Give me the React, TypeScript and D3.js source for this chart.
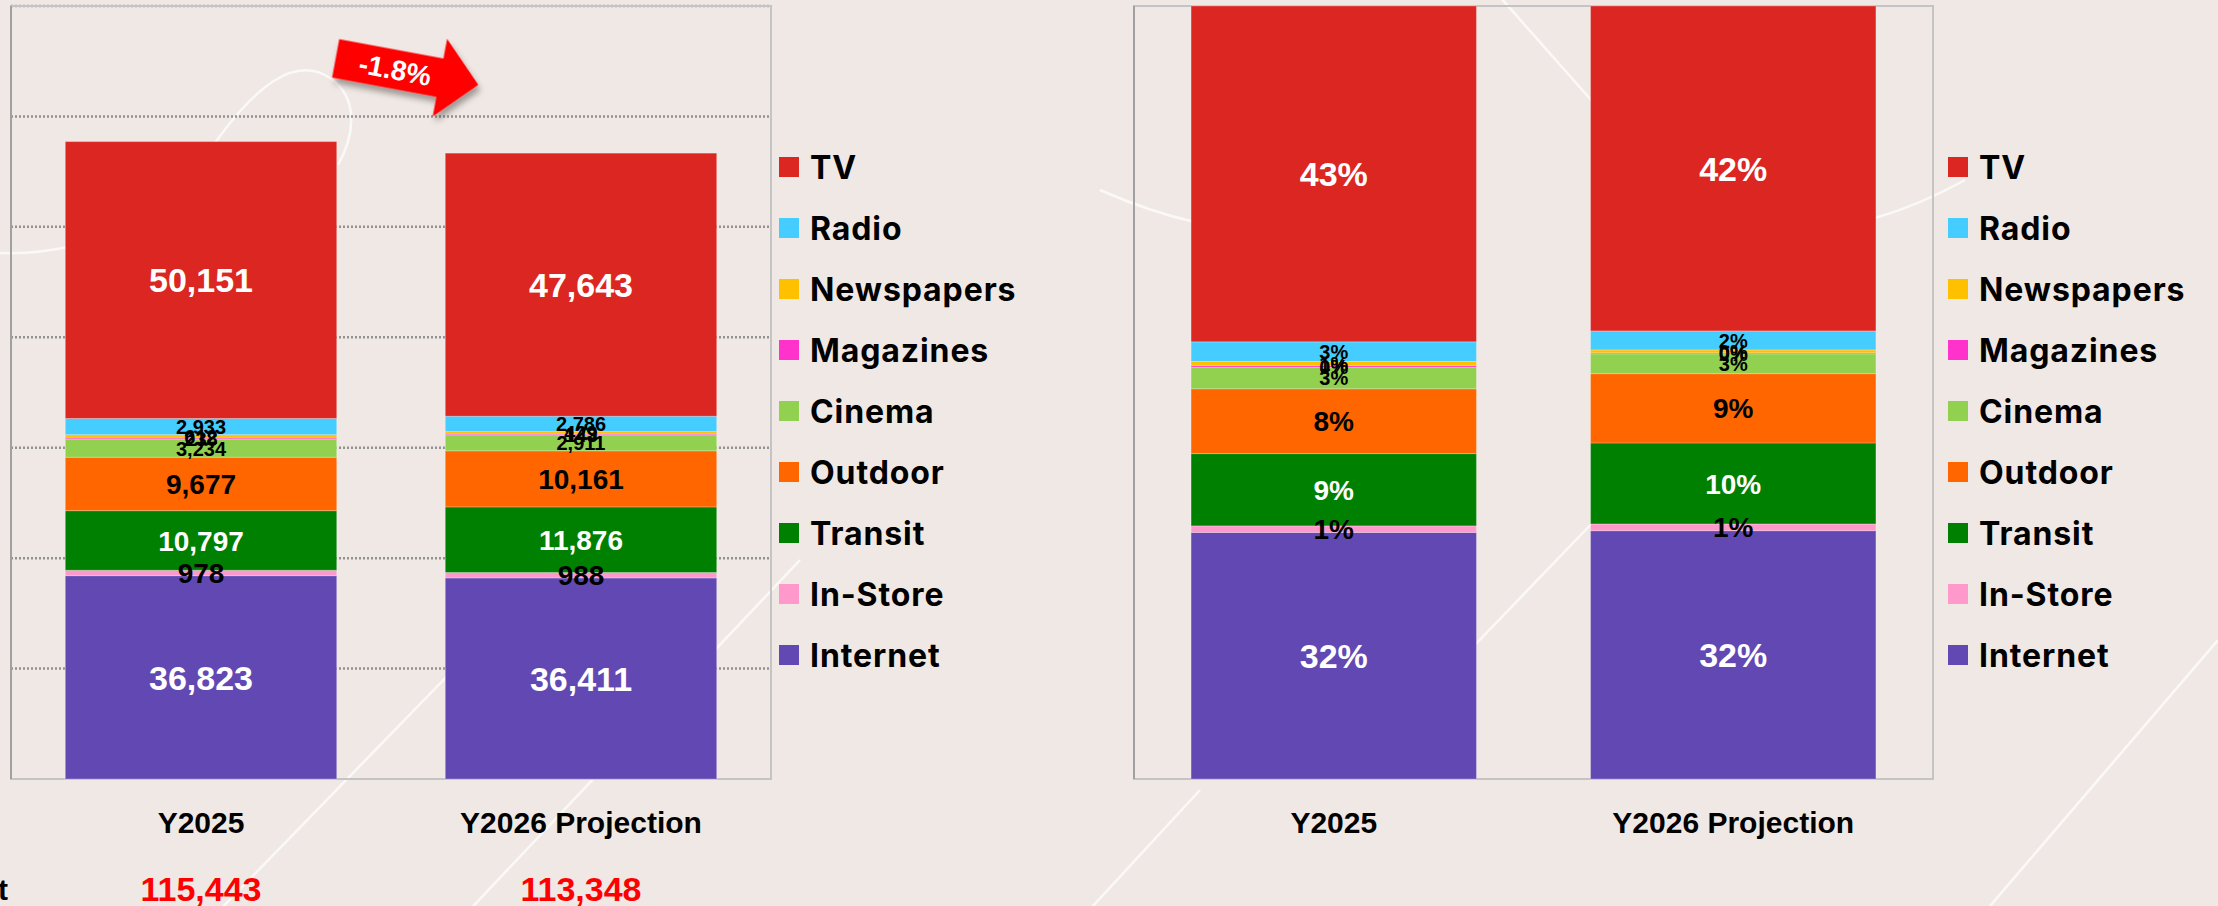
import React from 'react';
import * as d3 from 'd3';

// ---------- data ----------
const categories = ['Y2025', 'Y2026 Projection'];
// stacking order bottom -> top
const seriesNames = ['Internet', 'In-Store', 'Transit', 'Outdoor', 'Cinema', 'Magazines', 'Newspapers', 'Radio', 'TV'];
const internet = [36823, 36411];
const inStore = [978, 988];
const transit = [10797, 11876];
const outdoor = [9677, 10161];
const cinema = [3234, 2911];
const magazines = [238, 143];
const newspapers = [612, 429];
const radio = [2933, 2786];
const tv = [50151, 47643];
const seriesValues = [internet, inStore, transit, outdoor, cinema, magazines, newspapers, radio, tv];
const legendOrder = ['TV', 'Radio', 'Newspapers', 'Magazines', 'Cinema', 'Outdoor', 'Transit', 'In-Store', 'Internet'];
const yTicks = [20000, 40000, 60000, 80000, 100000, 120000, 140000];
const yMax = 140000;
const totalLabel = 'Total Ad Spent';

const colors: Record<string, string> = {
  TV: '#DC2622',
  Radio: '#45CDFF',
  Newspapers: '#FFC000',
  Magazines: '#FF33CC',
  Cinema: '#92D050',
  Outdoor: '#FF6600',
  Transit: '#008000',
  'In-Store': '#FF99CC',
  Internet: '#6248B3',
};
const labelSize: Record<string, number> = {
  TV: 34, Internet: 34, Outdoor: 28, Transit: 28, 'In-Store': 28,
  Radio: 20, Newspapers: 20, Magazines: 20, Cinema: 20,
};
const whiteLabels = new Set(['TV', 'Transit', 'Internet']);

const W = 2218;
const H = 906;
const BG = '#F0E8E4';
const FONT = "'Liberation Sans', Arial, Helvetica, sans-serif";
const LEGEND_FONT = "Inter, 'Liberation Sans', sans-serif";

const rows = categories.map((c, i) => {
  const r: any = { category: c };
  seriesNames.forEach((s, k) => { r[s] = seriesValues[k][i]; });
  return r;
});
const totals = categories.map((_, i) => d3.sum(seriesValues, (v) => v[i]));

type ChartProps = { left: number; right: number; top: number; bottom: number; percent: boolean };

function StackedChart({ left, right, top, bottom, percent }: ChartProps) {
  const x = d3.scaleBand<string>().domain(categories).range([left, right]).paddingInner(0.2857).paddingOuter(0.1429);
  const y = d3.scaleLinear().domain([0, percent ? 1 : yMax]).range([bottom, top]);
  const stackGen = d3.stack<any>().keys(seriesNames);
  if (percent) stackGen.offset(d3.stackOffsetExpand);
  const stacked = stackGen(rows);
  const fmtAbs = d3.format(',');
  const fmtPct = d3.format('.0%');
  return (
    <g>
      {!percent && yTicks.map((t) => (
        <line key={t} x1={left} x2={right} y1={y(t)} y2={y(t)} stroke="#929292" strokeWidth={2.5} strokeDasharray="2 2" />
      ))}
      <rect x={left} y={top} width={right - left} height={bottom - top} fill="none" stroke="#C4C4C4" strokeWidth={2} />
      <line x1={left} x2={left} y1={top} y2={bottom} stroke="#A0A0A0" strokeWidth={2} />
      {stacked.map((layer) => (
        <g key={layer.key}>
          {layer.map((d, i) => (
            <rect key={i} x={x(categories[i])} y={y(d[1])} width={x.bandwidth()} height={Math.max(0, y(d[0]) - y(d[1]))}
              fill={colors[layer.key]} stroke="#ffffff" strokeOpacity={0.25} strokeWidth={1} />
          ))}
        </g>
      ))}
      {stacked.map((layer) => (
        <g key={'l' + layer.key}>
          {layer.map((d, i) => {
            const v = rows[i][layer.key];
            const txt = percent ? fmtPct(v / totals[i]) : fmtAbs(v);
            return (
              <text key={i} x={(x(categories[i]) as number) + x.bandwidth() / 2} y={(y(d[0]) + y(d[1])) / 2}
                dy="0.36em" textAnchor="middle" fontFamily={FONT} fontWeight={700} fontSize={labelSize[layer.key]}
                fill={whiteLabels.has(layer.key) ? '#ffffff' : '#000000'}>{txt}</text>
            );
          })}
        </g>
      ))}
      {categories.map((c) => (
        <text key={c} x={(x(c) as number) + x.bandwidth() / 2} y={822} dy="0.36em" textAnchor="middle"
          fontFamily={FONT} fontWeight={700} fontSize={30} fill="#000">{c}</text>
      ))}
      {!percent && categories.map((c, i) => (
        <text key={'t' + c} x={(x(c) as number) + x.bandwidth() / 2} y={889} dy="0.36em" textAnchor="middle"
          fontFamily={FONT} fontWeight={700} fontSize={34} fill="#FF0000">{fmtAbs(totals[i])}</text>
      ))}
      {!percent && (
        <text x={8} y={889} dy="0.36em" textAnchor="end" fontFamily={FONT} fontWeight={700} fontSize={30} fill="#000">{totalLabel}</text>
      )}
      {!percent && <Arrow x={(((x(categories[0]) as number) + (x(categories[1]) as number)) / 2) + x.bandwidth() / 2 + 16} y={y(d3.max(totals) as number) - 70} />}
    </g>
  );
}

function Arrow({ x, y }: { x: number; y: number }) {
  const len = 145, headLen = 39, shaftHalf = 19.5, headHalf = 39.5;
  const hx = len / 2 - headLen;
  const pts = [[-len / 2, -shaftHalf], [hx, -shaftHalf], [hx, -headHalf], [len / 2, 0], [hx, headHalf], [hx, shaftHalf], [-len / 2, shaftHalf]];
  const change = totals[1] / totals[0] - 1;
  const txt = d3.format('.1%')(change).replace('\u2212', '-');
  return (
    <g transform={`translate(${x},${y}) rotate(10.5)`}>
      <polygon points={pts.map((p) => p.join(',')).join(' ')} fill="#FF0000" filter="url(#shadow)" />
      <text x={-12} y={0} dy="0.36em" textAnchor="middle" fontFamily={FONT} fontWeight={700} fontSize={28} fill="#fff">{txt}</text>
    </g>
  );
}

function Legend({ x }: { x: number }) {
  return (
    <g>
      {legendOrder.map((s, i) => {
        const cy = 167 + i * 61;
        return (
          <g key={s}>
            <rect x={x} y={cy - 10} width={20} height={20} fill={colors[s]} />
            <text x={x + 31} y={cy} dy="0.36em" fontFamily={LEGEND_FONT} fontWeight={700} fontSize={32} letterSpacing={0.9} fill="#000">{s}</text>
          </g>
        );
      })}
    </g>
  );
}

export default function App() {
  return (
    <svg width={W} height={H} style={{ position: 'absolute', left: 0, top: 0, display: 'block' }}>
      <defs>
        <filter id="shadow" x="-30%" y="-30%" width="160%" height="180%">
          <feDropShadow dx={3} dy={5} stdDeviation={3} floodColor="#000" floodOpacity={0.35} />
        </filter>
      </defs>
      <rect x={0} y={0} width={W} height={H} fill={BG} />
      <g fill="none" stroke="#FFFFFF" strokeOpacity={0.75} strokeWidth={2.5}>
        <path d="M 212 918 L 560 560" />
        <path d="M 462 918 L 800 560" />
        <path d="M 210 150 C 255 85 295 55 330 78 C 362 100 352 140 338 165" />
        <path d="M 0 253 C 30 254 55 250 72 246" />
        <path d="M 1100 190 Q 1150 212 1195 222" />
        <path d="M 1875 218 Q 1920 205 1965 180" />
        <path d="M 1485 -20 L 1600 110" />
        <path d="M 1470 650 L 1600 515" />
        <path d="M 1080 920 L 1200 790" />
        <path d="M 1990 906 L 2218 640" />
      </g>
      <StackedChart left={11} right={771} top={6} bottom={779} percent={false} />
      <Legend x={779} />
      <StackedChart left={1134} right={1933} top={6} bottom={779} percent={true} />
      <Legend x={1948} />
    </svg>
  );
}
